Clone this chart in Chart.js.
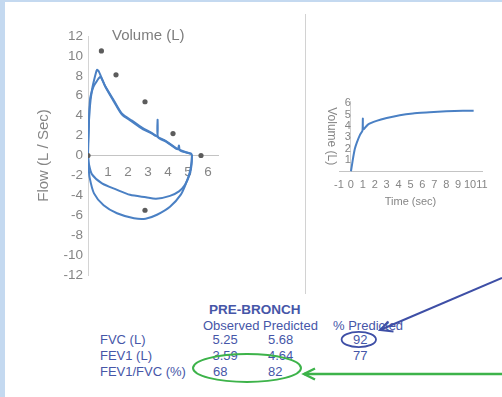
<!DOCTYPE html>
<html><head><meta charset="utf-8">
<script src="https://cdn.jsdelivr.net/npm/chart.js@4.4.0/dist/chart.umd.min.js"></script>
<style>
html,body{margin:0;padding:0;}
body{width:502px;height:397px;position:relative;overflow:hidden;background:#fff;font-family:"Liberation Sans",Arial,sans-serif;}
.frame-l{position:absolute;left:0;top:0;width:5px;height:397px;background:#c4d9f0;}
.frame-t{position:absolute;left:0;top:0;width:502px;height:2px;background:#c4d9f0;}
#c1{position:absolute;left:0;top:0;}
#c2{position:absolute;left:306px;top:80px;}
.sep{position:absolute;left:305px;top:14px;width:1px;height:280px;background:#d2d2d2;}
.t{position:absolute;color:#4656a8;font-size:13px;white-space:nowrap;line-height:13px;}
.g{position:absolute;color:#7d7d7d;white-space:nowrap;}
</style></head>
<body>
<div class="frame-l"></div><div class="frame-t"></div>
<div class="sep"></div>
<canvas id="c1" width="300" height="300"></canvas>
<canvas id="c2" width="196" height="130"></canvas>
<div class="g" style="left:112px;top:27px;font-size:15px;line-height:15px;">Volume (L)</div>

<div class="t" style="left:209px;top:302.5px;font-weight:bold;font-size:13.5px;">PRE-BRONCH</div>
<div class="t" style="left:203px;top:318.5px;">Observed Predicted</div>
<div class="t" style="left:333px;top:318.5px;">% Predicted</div>
<div class="t" style="left:100px;top:333px;">FVC (L)</div>
<div class="t" style="left:100px;top:348.5px;">FEV1 (L)</div>
<div class="t" style="left:100px;top:364.5px;">FEV1/FVC (%)</div>
<div class="t" style="left:212.5px;top:333px;">5.25</div>
<div class="t" style="left:268px;top:333px;">5.68</div>
<div class="t" style="left:353px;top:333px;">92</div>
<div class="t" style="left:212.5px;top:348.5px;">3.59</div>
<div class="t" style="left:268px;top:348.5px;">4.64</div>
<div class="t" style="left:353px;top:348.5px;">77</div>
<div class="t" style="left:213px;top:364.5px;">68</div>
<div class="t" style="left:268px;top:364.5px;">82</div>

<svg width="502" height="397" style="position:absolute;left:0;top:0;pointer-events:none">
  <ellipse cx="358.8" cy="339.5" rx="17.2" ry="7.6" fill="none" stroke="#3e4fa6" stroke-width="1.8"/>
  <line x1="502" y1="278" x2="380" y2="330" stroke="#3e4fa6" stroke-width="2"/>
  <polyline points="388.5,321.5 380,330 393.5,331.5" fill="none" stroke="#3e4fa6" stroke-width="2"/>
  <ellipse cx="247" cy="368" rx="54" ry="14" fill="none" stroke="#3db34a" stroke-width="2"/>
  <line x1="304" y1="374" x2="502" y2="374" stroke="#3db34a" stroke-width="2.5"/>
  <polyline points="315,368.5 304,374 315,379.5" fill="none" stroke="#3db34a" stroke-width="2.5"/>
</svg>

<script>
// ---- Flow-volume loop (left) ----
const predVol  = [0, 0.67, 1.4, 2.85, 4.25, 5.65, 2.85];
const predFlow = [0, 10.5, 8.1, 5.4, 2.2, 0, -5.5];

const expOuterVol  = [0, 0.0, 0.02, 0.08, 0.2, 0.37, 0.45, 0.55, 0.87, 1.3, 1.7, 2.2, 2.7, 3.2, 3.46, 3.48, 3.5, 3.9, 4.4, 4.5, 4.55, 4.6, 5.1, 5.2];
const expOuterFlow = [0, 1.1, 2.2, 4.6, 6.6, 8.1, 8.6, 8.4, 6.9, 5.4, 4.1, 3.4, 2.7, 2.2, 1.95, 3.6, 1.85, 1.4, 0.7, 0.65, 1.0, 0.5, 0.2, 0.15];

const expInnerVol  = [0, 0.03, 0.1, 0.27, 0.45, 0.62, 0.85, 1.3, 1.7, 2.2, 2.7, 3.2, 3.5, 3.9, 4.4, 4.8, 5.2];
const expInnerFlow = [0, 2.0, 5.6, 6.9, 7.5, 7.9, 7.0, 5.5, 4.2, 3.5, 2.8, 2.25, 1.85, 1.45, 0.75, 0.4, 0.15];

const inspInnerVol  = [0, 0.05, 0.2, 0.7, 1.4, 2.1, 2.9, 3.4, 4.1, 4.55, 4.85, 5.1, 5.18, 5.2];
const inspInnerFlow = [0, -0.9, -1.9, -2.8, -3.4, -3.95, -4.2, -4.35, -4.05, -3.6, -2.95, -1.8, -0.9, 0.1];

const inspOuterVol  = [0, 0.03, 0.08, 0.3, 0.78, 1.45, 2.3, 2.88, 3.45, 4.1, 4.65, 4.9, 5.1, 5.18, 5.2];
const inspOuterFlow = [0, -1.1, -2.2, -3.8, -5.0, -5.8, -6.3, -6.35, -5.95, -5.15, -3.9, -2.8, -1.6, -0.6, 0.1];

const flowTicks = [-12, -10, -8, -6, -4, -2, 0, 2, 4, 6, 8, 10, 12];
const volumeTicks = [1, 2, 3, 4, 5, 6];

// ---- Volume-time curve (right) ----
const vtTime = [0, 0.1, 0.2, 0.33, 0.48, 0.75, 0.97, 1.0, 1.03, 1.45, 2.15, 3.0, 4.1, 5.2, 6.6, 8.0, 9.4, 10.3];
const vtVol  = [0, 0.65, 1.3, 2.0, 2.5, 3.2, 3.6, 4.65, 3.7, 4.15, 4.45, 4.7, 4.95, 5.1, 5.2, 5.3, 5.35, 5.35];
const timeTicks = [-1, 0, 1, 2, 3, 4, 5, 6, 7, 8, 9, 10, 11];
const vtVolTicks = [1, 2, 3, 4, 5, 6];

const BLUE = '#4a80c4';
const GRAY = '#858585';
Chart.defaults.font.family = "'Liberation Sans', Arial, sans-serif";

function pts(xs, ys){ return xs.map((x,i)=>({x:x, y:ys[i]})); }
function line(xs, ys){ return {data: pts(xs, ys), showLine:true, borderColor:BLUE, borderWidth:2, pointRadius:0, tension:0.25, fill:false}; }

new Chart(document.getElementById('c1'), {
  type:'scatter',
  data:{datasets:[
    {data: pts(predVol, predFlow), showLine:false, pointRadius:2.6, pointBackgroundColor:'#5c5c5c', pointBorderWidth:0},
    line(expOuterVol, expOuterFlow),
    line(expInnerVol, expInnerFlow),
    line(inspInnerVol, inspInnerFlow),
    line(inspOuterVol, inspOuterFlow)
  ]},
  options:{
    responsive:false, animation:false, devicePixelRatio:1,
    layout:{padding:{left:0, top:36, right:82, bottom:25}},
    plugins:{legend:{display:false}, tooltip:{enabled:false}},
    scales:{
      x:{type:'linear', position:{y:0}, min:0, max:6.5,
         afterBuildTicks(s){ s.ticks = volumeTicks.map(v=>({value:v})); },
         ticks:{color:GRAY, font:{size:13.5}, padding:9, maxRotation:0, autoSkip:false},
         grid:{display:false, drawTicks:false},
         border:{display:true, color:'#c4c4c4', dash:[2,6]}},
      y:{type:'linear', position:'left', min:-12, max:12,
         afterBuildTicks(s){ s.ticks = flowTicks.map(v=>({value:v})); },
         ticks:{color:GRAY, font:{size:13.5}, padding:5, autoSkip:false},
         grid:{display:false, drawTicks:false},
         border:{display:true, color:'#d4d4d4'},
         title:{display:true, text:'Flow (L / Sec)', color:GRAY, font:{size:15}, padding:{top:35, bottom:0}},
         afterFit(s){ s.width = 88; }}
    }
  }
});

new Chart(document.getElementById('c2'), {
  type:'scatter',
  data:{datasets:[ Object.assign(line(vtTime, vtVol), {tension:0.15}) ]},
  options:{
    responsive:false, animation:false, devicePixelRatio:1,
    layout:{padding:{left:33, top:21, right:20, bottom:1.5}},
    plugins:{legend:{display:false}, tooltip:{enabled:false}},
    scales:{
      x:{type:'linear', position:'bottom', min:-1, max:11,
         afterBuildTicks(s){ s.ticks = timeTicks.map(v=>({value:v})); },
         ticks:{color:GRAY, font:{size:11}, padding:7, maxRotation:0, autoSkip:false},
         grid:{display:false, drawTicks:false},
         border:{display:true, color:'#c4c4c4', dash:[2,4]},
         title:{display:true, text:'Time (sec)', color:GRAY, font:{size:11}, padding:0},
         afterFit(s){ s.height = 37; }},
      y:{type:'linear', position:{x:0}, min:0, max:6.2,
         afterBuildTicks(s){ s.ticks = vtVolTicks.map(v=>({value:v})); },
         ticks:{color:GRAY, font:{size:11}, padding:3, autoSkip:false},
         grid:{display:false, drawTicks:false},
         border:{display:true, color:'#d0d0d0'},
         title:{display:true, text:'Volume (L)', color:GRAY, font:{size:12}, padding:0},
         afterFit(s){ s.width = 27; }}
    }
  }
});
</script>
</body></html>
